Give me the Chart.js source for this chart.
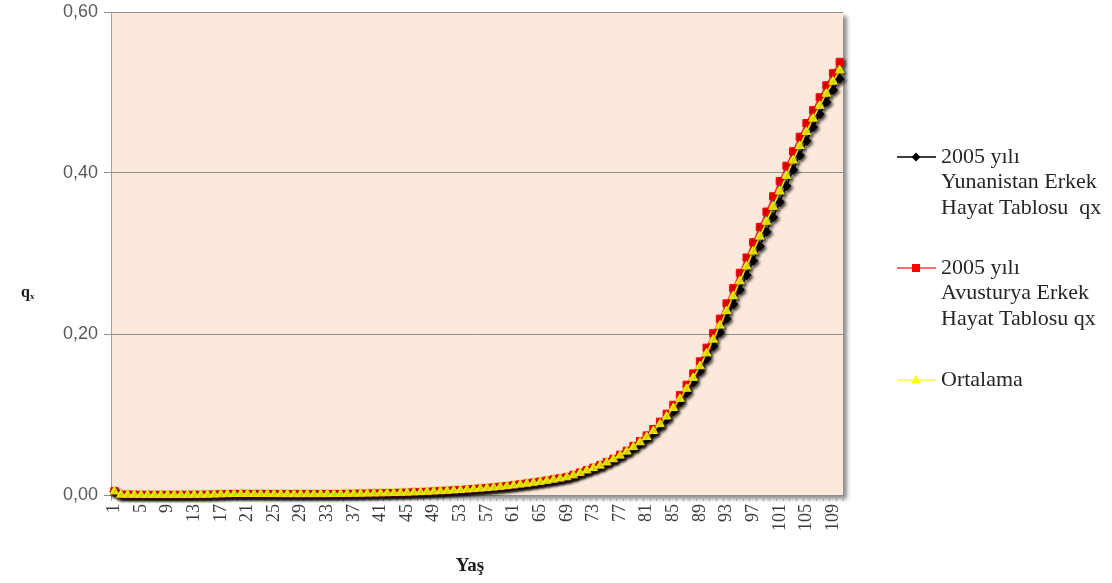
<!DOCTYPE html>
<html>
<head>
<meta charset="utf-8">
<script src="https://cdn.jsdelivr.net/npm/chart.js@4.4.1/dist/chart.umd.min.js"></script>
<style>
  html, body { margin: 0; padding: 0; background: #ffffff; }
  #wrap { width: 1112px; height: 583px; }
</style>
</head>
<body>
<div id="wrap"><canvas id="c" width="1112" height="583"></canvas></div>
<script>
// Age categories (1..110)
const ages = Array.from({ length: 110 }, (_, i) => String(i + 1));

// y-axis ticks
const yTicks = [0, 0.2, 0.4, 0.6];

// 2005 Greece male life table qx
const greece = [
  0.0043,0.0004,0.0003,0.0002,0.0002,0.0002,0.0001,0.0001,0.0001,0.0001,
  0.0002,0.0002,0.0002,0.0003,0.0004,0.0006,0.0009,0.0012,0.0014,0.0015,
  0.0015,0.0015,0.0014,0.0014,0.0013,0.0013,0.0012,0.0012,0.0012,0.0012,
  0.0012,0.0012,0.0013,0.0013,0.0014,0.0015,0.0016,0.0017,0.0018,0.0020,
  0.0021,0.0023,0.0025,0.0027,0.0030,0.0033,0.0036,0.0040,0.0044,0.0048,
  0.0052,0.0057,0.0062,0.0067,0.0073,0.0079,0.0085,0.0092,0.0100,0.0108,
  0.0117,0.0127,0.0137,0.0148,0.0160,0.0173,0.0187,0.0202,0.0218,0.0240,
  0.027,0.030,0.033,0.036,0.040,0.044,0.048,0.053,0.058,0.064,
  0.070,0.077,0.085,0.094,0.104,0.115,0.127,0.140,0.154,0.169,
  0.185,0.202,0.219,0.237,0.255,0.273,0.291,0.309,0.327,0.345,
  0.364,0.384,0.404,0.422,0.440,0.457,0.473,0.488,0.503,0.517
];

// 2005 Austria male life table qx
const austria = [
  0.0047,0.0004,0.0003,0.0002,0.0002,0.0001,0.0001,0.0001,0.0001,0.0001,
  0.0001,0.0001,0.0002,0.0002,0.0003,0.0005,0.0007,0.0010,0.0012,0.0012,
  0.0011,0.0011,0.0010,0.0010,0.0010,0.0009,0.0009,0.0009,0.0009,0.0009,
  0.0010,0.0010,0.0010,0.0011,0.0012,0.0013,0.0014,0.0015,0.0017,0.0018,
  0.0020,0.0022,0.0024,0.0026,0.0029,0.0032,0.0035,0.0039,0.0043,0.0047,
  0.0052,0.0057,0.0062,0.0068,0.0074,0.0080,0.0087,0.0094,0.0102,0.0111,
  0.0121,0.0132,0.0143,0.0155,0.0167,0.0180,0.0194,0.0208,0.0224,0.0250,
  0.028,0.031,0.034,0.037,0.041,0.045,0.050,0.055,0.061,0.067,
  0.074,0.082,0.091,0.101,0.112,0.124,0.137,0.151,0.166,0.183,
  0.201,0.219,0.238,0.257,0.276,0.295,0.314,0.333,0.352,0.371,
  0.390,0.409,0.427,0.445,0.462,0.478,0.494,0.509,0.524,0.538
];

// Average of the two tables
const average = [
  0.0045,0.0004,0.0003,0.0002,0.0002,0.00015,0.0001,0.0001,0.0001,0.0001,
  0.00015,0.00015,0.0002,0.00025,0.00035,0.00055,0.0008,0.0011,0.0013,0.00135,
  0.0013,0.0013,0.0012,0.0012,0.00115,0.0011,0.00105,0.00105,0.00105,0.00105,
  0.0011,0.0011,0.00115,0.0012,0.0013,0.0014,0.0015,0.0016,0.00175,0.0019,
  0.00205,0.00225,0.00245,0.00265,0.00295,0.00325,0.00355,0.00395,0.00435,0.00475,
  0.0052,0.0057,0.0062,0.00675,0.00735,0.00795,0.0086,0.0093,0.0101,0.01095,
  0.0119,0.01295,0.0140,0.01515,0.01635,0.01765,0.01905,0.0205,0.0221,0.0245,
  0.0275,0.0305,0.0335,0.0365,0.0405,0.0445,0.049,0.054,0.0595,0.0655,
  0.072,0.0795,0.088,0.0975,0.108,0.1195,0.132,0.1455,0.160,0.176,
  0.193,0.2105,0.2285,0.247,0.2655,0.284,0.3025,0.321,0.3395,0.358,
  0.377,0.3965,0.4155,0.4335,0.451,0.4675,0.4835,0.4985,0.5135,0.5275
];

const seriesNames = [
  ['2005 yılı', 'Yunanistan Erkek', 'Hayat Tablosu  qx'],
  ['2005 yılı', 'Avusturya Erkek', 'Hayat Tablosu qx'],
  ['Ortalama']
];

const SERIF = '"Liberation Serif", "Times New Roman", serif';
const SANS = '"Liberation Sans", Arial, sans-serif';

// Peach plot background with a soft drop shadow
const plotBackground = {
  id: 'plotBackground',
  beforeDraw(chart) {
    const { ctx, chartArea: a } = chart;
    ctx.save();
    ctx.shadowColor = 'rgba(0,0,0,0.45)';
    ctx.shadowBlur = 4;
    ctx.shadowOffsetX = 4;
    ctx.shadowOffsetY = 4;
    ctx.fillStyle = '#fce9db';
    ctx.fillRect(a.left, a.top, a.right - a.left, a.bottom - a.top);
    ctx.restore();
  }
};

// Shadow under the lines and markers
const seriesShadow = {
  id: 'seriesShadow',
  beforeDatasetsDraw(chart) {
    const ctx = chart.ctx;
    ctx.save();
    ctx.shadowColor = 'rgba(0,0,0,0.65)';
    ctx.shadowBlur = 3;
    ctx.shadowOffsetX = 2;
    ctx.shadowOffsetY = 2;
  },
  afterDatasetsDraw(chart) {
    chart.ctx.restore();
  }
};

function marker(ctx, style, x, y, color) {
  ctx.fillStyle = color;
  ctx.beginPath();
  if (style === 'rectRot') {
    ctx.moveTo(x, y - 4.5); ctx.lineTo(x + 4.5, y); ctx.lineTo(x, y + 4.5); ctx.lineTo(x - 4.5, y);
  } else if (style === 'rect') {
    ctx.rect(x - 4, y - 4, 8, 8);
  } else {
    ctx.moveTo(x, y - 5); ctx.lineTo(x + 5, y + 3.5); ctx.lineTo(x - 5, y + 3.5);
  }
  ctx.closePath();
  ctx.fill();
}

// Titles and the right-hand legend
const annotations = {
  id: 'annotations',
  afterDraw(chart) {
    const ctx = chart.ctx;
    ctx.save();
    // y title: q with subscript x
    ctx.fillStyle = '#1a1a1a';
    ctx.textBaseline = 'alphabetic';
    ctx.textAlign = 'left';
    ctx.font = 'bold 16px ' + SERIF;
    ctx.fillText('q', 21, 297);
    ctx.font = 'bold 9px ' + SERIF;
    ctx.fillText('x', 30, 299);
    // x title
    ctx.font = 'bold 19px ' + SERIF;
    ctx.textAlign = 'center';
    ctx.fillText('Yaş', 470, 571);

    // legend
    const items = [
      { y: 157, color: '#000000', line: '#000000', style: 'rectRot' },
      { y: 268, color: '#ff0000', line: '#ff3b3b', style: 'rect' },
      { y: 380, color: '#ffff00', line: '#ffff40', style: 'triangle' }
    ];
    items.forEach((it, i) => {
      ctx.strokeStyle = it.line;
      ctx.lineWidth = 1.5;
      ctx.beginPath();
      ctx.moveTo(897, it.y);
      ctx.lineTo(936, it.y);
      ctx.stroke();
      marker(ctx, it.style, 916, it.y, it.color);
      ctx.fillStyle = '#262626';
      ctx.font = '22px ' + SERIF;
      ctx.textAlign = 'left';
      ctx.textBaseline = 'middle';
      seriesNames[i].forEach((t, k) => ctx.fillText(t, 941, it.y + k * 25.5));
    });
    ctx.restore();
  }
};

const datasets = [
  {
    label: seriesNames[0].join(' '), data: greece, order: 3,
    borderColor: '#000000', borderWidth: 1.5,
    pointStyle: 'rectRot', pointRadius: 4.5,
    pointBackgroundColor: '#000000', pointBorderColor: '#000000', pointBorderWidth: 1
  },
  {
    label: seriesNames[1].join(' '), data: austria, order: 2,
    borderColor: '#ff3030', borderWidth: 1.5,
    pointStyle: 'rect', pointRadius: 5,
    pointBackgroundColor: '#ff0000', pointBorderColor: '#ff0000', pointBorderWidth: 1
  },
  {
    label: seriesNames[2][0], data: average, order: 1,
    borderColor: '#ffff00', borderWidth: 1.5,
    pointStyle: 'triangle', pointRadius: 5,
    pointBackgroundColor: '#ffff00', pointBorderColor: '#f2e600', pointBorderWidth: 1
  }
];

new Chart(document.getElementById('c'), {
  type: 'line',
  data: { labels: ages, datasets: datasets.map(d => Object.assign({ tension: 0, clip: false, fill: false }, d)) },
  options: {
    responsive: false,
    animation: false,
    devicePixelRatio: 1,
    layout: { padding: { top: 12, right: 269, left: 0, bottom: 0 } },
    plugins: { legend: { display: false }, tooltip: { enabled: false } },
    scales: {
      x: {
        offset: true,
        afterFit(scale) { scale.height = 88; },
        grid: { offset: true, drawOnChartArea: false, tickLength: 6, tickColor: '#a6a6a6', lineWidth: 1 },
        border: { display: true, color: '#8c8c8c', width: 1 },
        ticks: {
          autoSkip: false, minRotation: 90, maxRotation: 90, padding: 3,
          color: '#3a3a3a', font: { family: SERIF, size: 18 },
          callback: (v, i) => (i % 4 === 0 ? ages[i] : '')
        }
      },
      y: {
        min: yTicks[0], max: yTicks[yTicks.length - 1],
        afterFit(scale) { scale.width = 111; scale.paddingTop = 0; scale.paddingBottom = 0; },
        afterBuildTicks(scale) { scale.ticks = yTicks.map(v => ({ value: v })); },
        grid: { color: '#8f8f8f', lineWidth: 1, tickLength: 7, tickColor: '#8f8f8f' },
        border: { display: true, color: '#a0a0a0', width: 1 },
        ticks: {
          padding: 6, color: '#595959', font: { family: SANS, size: 18 },
          callback: v => v.toFixed(2).replace('.', ',')
        }
      }
    }
  },
  plugins: [plotBackground, seriesShadow, annotations]
});
</script>
</body>
</html>
